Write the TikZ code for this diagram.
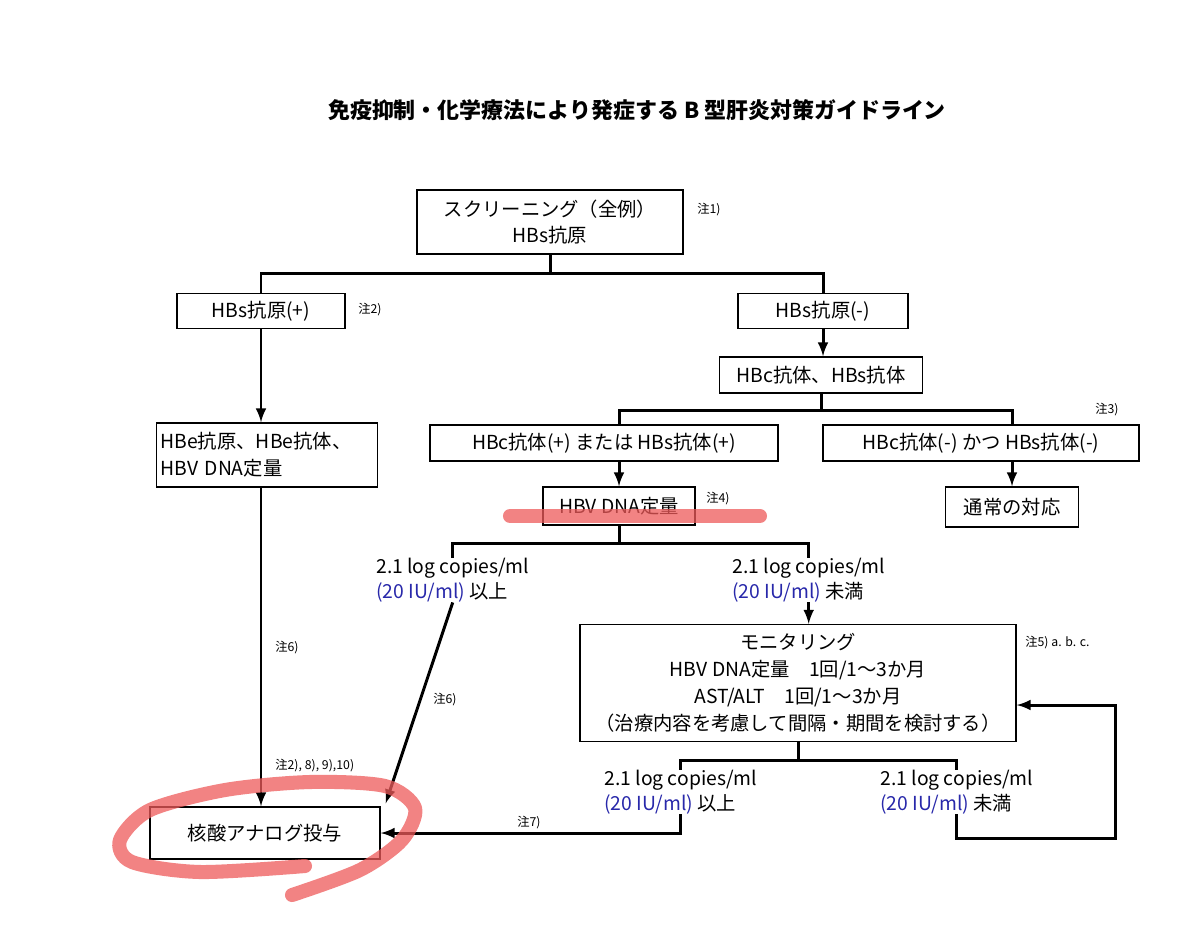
\documentclass[tikz,border=0pt]{standalone}
\usepackage{fontspec}
\setmainfont{Noto Sans CJK JP}
\usepackage{tikz}
\usetikzlibrary{arrows,calc}
\definecolor{ulblue}{RGB}{40,40,170}
\definecolor{marker}{RGB}{238,90,90}

\begin{document}
\begin{tikzpicture}[x=0.02cm, y=-0.02cm,
    box/.style={draw, line width=0.8pt, align=center, inner sep=0pt, font=\fontsize{11}{15.3}\selectfont},
    lbl/.style={align=left, inner sep=0pt, anchor=north west, font=\fontsize{11}{14}\selectfont},
    note/.style={inner sep=0pt, anchor=west, font=\fontsize{7}{8}\selectfont},
    link/.style={line width=1.7pt},
    pen/.style={line width=8pt, color=marker, opacity=0.75, line cap=round, line join=round}]
    \useasboundingbox (0,0) rectangle (1200,927);

    \node (title) at (637,110) {\bfseries\fontsize{12.5}{15}\selectfont 免疫抑制・化学療法により発症する B 型肝炎対策ガイドライン};

    % boxes
    \node[box, minimum width=5.32cm, minimum height=1.28cm] (scr) at (550,222) {スクリーニング（全例）\\HBs抗原};
    \node[box, minimum width=3.36cm, minimum height=0.70cm] (hbsp) at (261,311) {HBs抗原(+)};
    \node[box, minimum width=3.40cm, minimum height=0.70cm] (hbsm) at (823,311) {HBs抗原(-)};
    \node[box, minimum width=4.06cm, minimum height=0.72cm] (hbcs) at (821,375) {HBc抗体、HBs抗体};
    \node[box, minimum width=4.42cm, minimum height=1.28cm, align=left, text width=4.26cm] (hbe) at (267,455) {HBe抗原、HBe抗体、\\HBV DNA定量};
    \node[box, minimum width=6.96cm, minimum height=0.72cm] (cpos) at (604,443) {HBc抗体(+) または HBs抗体(+)};
    \node[box, minimum width=6.32cm, minimum height=0.72cm] (cneg) at (981,443) {HBc抗体(-) かつ HBs抗体(-)};
    \node[box, minimum width=3.04cm, minimum height=0.76cm] (dna) at (619,506) {HBV DNA定量};
    \node[box, minimum width=2.66cm, minimum height=0.80cm] (usual) at (1012,507) {通常の対応};
    \node[box, minimum width=8.72cm, minimum height=2.34cm] (mon) at (798,683) {モニタリング\\HBV DNA定量　1回/1～3か月\\AST/ALT　1回/1～3か月\\（治療内容を考慮して間隔・期間を検討する）};
    \node[box, minimum width=4.60cm, minimum height=1.04cm] (nuc) at (265,833) {核酸アナログ投与};

    % thresholds
    \node[lbl] (t1) at (376,558) {2.1 log copies/ml\\{\color{ulblue}(20 IU/ml)} 以上};
    \node[lbl] (t2) at (732,558) {2.1 log copies/ml\\{\color{ulblue}(20 IU/ml)} 未満};
    \node[lbl] (t3) at (604,770) {2.1 log copies/ml\\{\color{ulblue}(20 IU/ml)} 以上};
    \node[lbl] (t4) at (880,770) {2.1 log copies/ml\\{\color{ulblue}(20 IU/ml)} 未満};

    % notes
    \node[note] (n1) at (697,210) {注1)};
    \node[note] (n2) at (358,310) {注2)};
    \node[note] (n3) at (1095,410) {注3)};
    \node[note] (n4) at (706,499) {注4)};
    \node[note] (n5) at (1025,643) {注5) a. b. c.};
    \node[note] (n6a) at (275,648) {注6)};
    \node[note] (n6b) at (433,700) {注6)};
    \node[note] (n8) at (275,766) {注2), 8), 9),10)};
    \node[note] (n7) at (517,823) {注7)};

    % connectors
    \draw[link] (scr.south) -- ++(0,19) -| (hbsp.north);
    \draw[link] (scr.south) -- ++(0,19) -| (hbsm.north);
    \draw[link, ->, >=latex] (hbsm.south) -- (hbsm.south |- hbcs.north);
    \draw[link] (hbcs.south) -- ++(0,17) -| (dna.north |- cpos.north);
    \draw[link] (hbcs.south) -- ++(0,17) -| (usual.north |- cneg.north);
    \draw[link, ->, >=latex] (dna.north |- cpos.south) -- (dna.north);
    \draw[link, ->, >=latex] (usual.north |- cneg.south) -- (usual.north);
    \draw[link, ->, >=latex] (hbsp.south) -- (hbsp.south |- hbe.north);
    \draw[link, ->, >=latex] (hbsp.south |- hbe.south) -- (hbsp.south |- nuc.north);

    \draw[link] (dna.south) -- ++(0,18) -| (t1.north);
    \draw[link] (dna.south) -- ++(0,18) -| (t2.north);
    \draw[link, ->, >=latex] (t1.south) -- ($(nuc.north east)+(5,-3)$);
    \draw[link, ->, >=latex] (t2.south) -- (t2.south |- mon.north);

    \draw[link] (mon.south) -- ++(0,18) -| (t3.north);
    \draw[link] (mon.south) -- ++(0,18) -| (t4.north);
    \draw[link, ->, >=latex] (t3.south) |- (nuc.east);
    \coordinate (back) at (1115,838);
    \draw[link, ->, >=latex] (t4.south) |- (back) |- ($(mon.east)+(0,22)$);

    % red marks
    \draw[pen] (510,516) -- (760,516);
    \draw[pen] plot[smooth] coordinates {(305,866) (200,872) (132,862) (120,840) (150,810) (225,790) (310,782) (385,786) (415,808) (402,840) (360,870) (292,895)};
\end{tikzpicture}
\end{document}
